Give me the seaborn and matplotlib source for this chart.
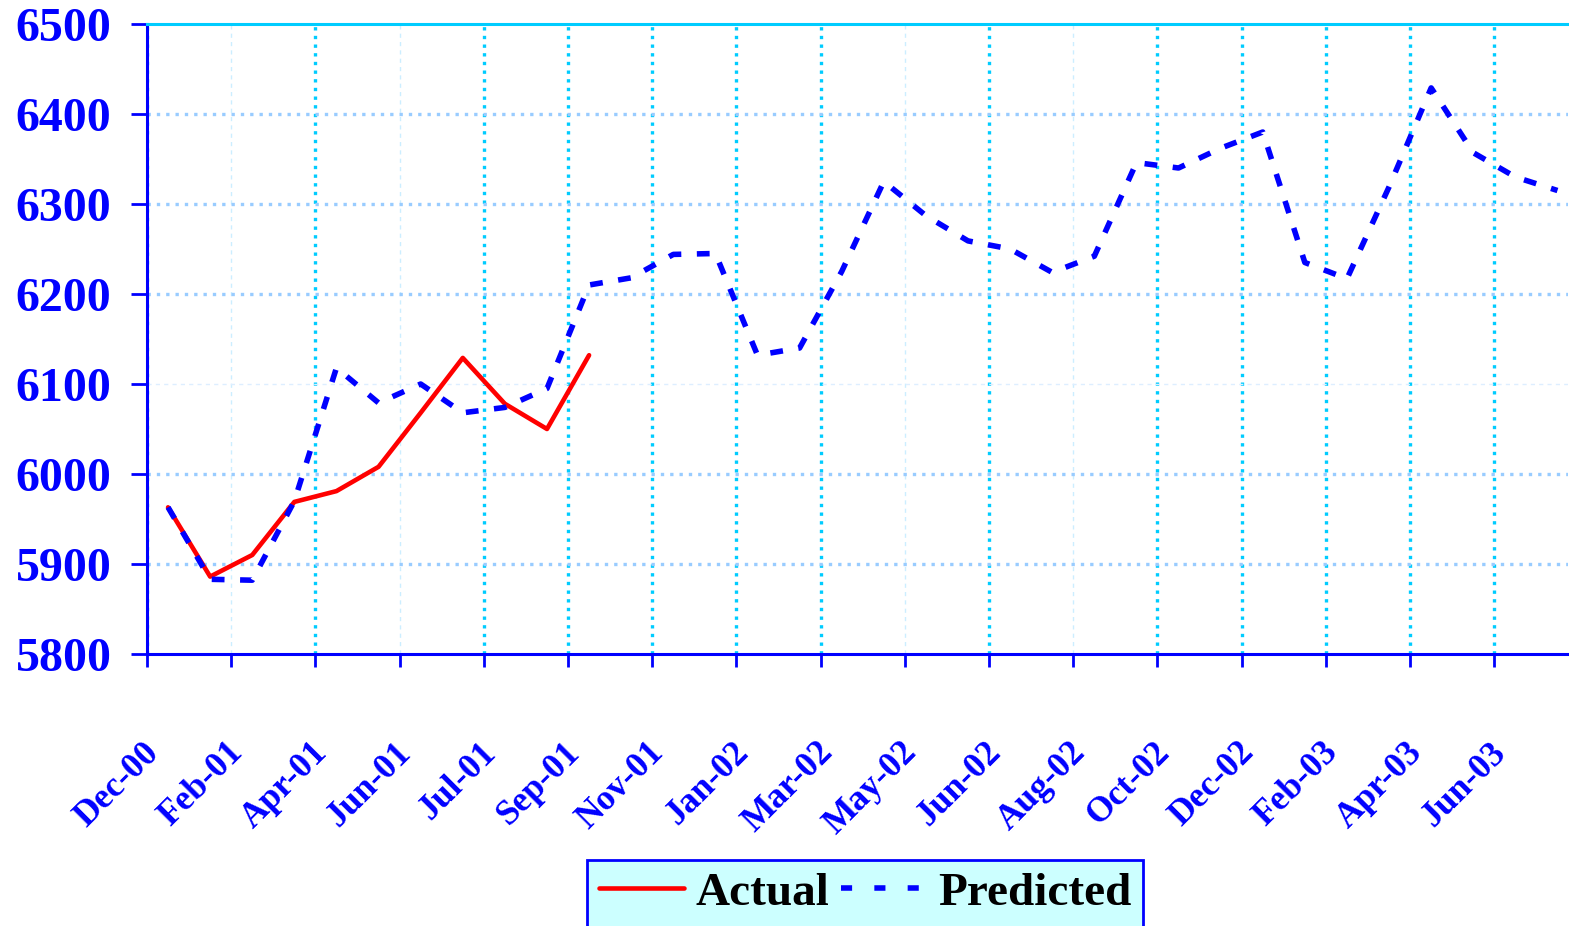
import numpy as np
import pandas as pd
import matplotlib
matplotlib.use("Agg")
import matplotlib.pyplot as plt
import matplotlib.transforms as mtransforms
import seaborn as sns

# ---- data ----
tick_labels = ["Dec-00", "Feb-01", "Apr-01", "Jun-01", "Jul-01", "Sep-01", "Nov-01",
               "Jan-02", "Mar-02", "May-02", "Jun-02", "Aug-02", "Oct-02", "Dec-02",
               "Feb-03", "Apr-03", "Jun-03"]
actual = [5963, 5886, 5910, 5969, 5981, 6008, 6068, 6129, 6078, 6050, 6132]
predicted = [5963, 5883, 5882, 5970, 6118, 6079, 6100, 6068, 6074, 6095,
             6210, 6218, 6244, 6245, 6132, 6140, 6225, 6325, 6287, 6259,
             6250, 6224, 6242, 6346, 6340, 6362, 6380, 6235, 6217, 6319,
             6429, 6357, 6330, 6315]
y_ticks = [5800, 5900, 6000, 6100, 6200, 6300, 6400, 6500]
faint_vgrid = ["Feb-01", "Jun-01", "May-02", "Aug-02"]
faint_hgrid = [6100]

df_a = pd.DataFrame({"t": np.arange(len(actual)), "v": actual})
df_p = pd.DataFrame({"t": np.arange(len(predicted)), "v": predicted})

sns.set_style("white")
plt.rcParams["font.family"] = ["Liberation Serif", "DejaVu Serif"]
plt.rcParams["font.weight"] = "bold"

W, H = 1569, 926
fig = plt.figure(figsize=(W / 100, H / 100), dpi=100)
ax = fig.add_axes([147 / W, 1 - 654 / H, (1568 - 147) / W, (654 - 24) / H])

BLUE = "#0000FF"
sns.lineplot(data=df_a, x="t", y="v", ax=ax, color="#FF0000", lw=3.3,
             label="Actual", zorder=3)
sns.lineplot(data=df_p, x="t", y="v", ax=ax, color=BLUE, lw=4,
             linestyle=(0, (2.3, 2.8)), label="Predicted", zorder=4)

tick_pos = np.arange(len(tick_labels)) * 2 - 0.5
ax.set_xlim(-0.5, 33.25)
ax.set_ylim(y_ticks[0], y_ticks[-1])

# grid lines
for p, lab in zip(tick_pos, tick_labels):
    if lab in faint_vgrid:
        ax.axvline(p, color="#CCEEFF", lw=1.0, ls=(0, (3, 3)), zorder=1)
    else:
        ax.axvline(p, color="#00CCFF", lw=2.4, ls=(0, (1, 1.6)), zorder=1)
for yv in y_ticks[1:-1]:
    if yv in faint_hgrid:
        ax.axhline(yv, color="#DDEEFF", lw=1.0, ls=(0, (3, 3)), zorder=1)
    else:
        ax.axhline(yv, color="#99CCFF", lw=2.4, ls=(0, (1, 1.8)), zorder=1)

ax.set_xticks(tick_pos)
ax.set_xticklabels(tick_labels, rotation=45, ha="right", va="center",
                   rotation_mode="anchor", fontsize=25.5, fontweight="bold", color=BLUE)
ax.set_yticks(y_ticks)
ax.set_yticklabels([str(v) for v in y_ticks], fontsize=34.5, fontweight="bold", color=BLUE)
ax.tick_params(axis="x", direction="out", length=9.5, width=2, color=BLUE, pad=58, bottom=True)
ax.tick_params(axis="y", direction="out", length=11.5, width=2, color=BLUE, pad=14, left=True)
ax.set_xlabel("")
ax.set_ylabel("")
shift = mtransforms.ScaledTranslation(0.07, 0, fig.dpi_scale_trans)
for lbl in ax.get_xticklabels():
    lbl.set_transform(lbl.get_transform() + shift)

for s in ["left", "bottom"]:
    ax.spines[s].set_color(BLUE)
    ax.spines[s].set_linewidth(2.2)
ax.spines["top"].set_color("#00CCFF")
ax.spines["top"].set_linewidth(2.2)
ax.spines["right"].set_visible(False)

leg = ax.legend(loc="upper center", bbox_to_anchor=(865 / W, 1 - 860 / H),
                bbox_transform=fig.transFigure, ncol=2, frameon=True, fancybox=False,
                framealpha=1, facecolor="#CCFFFF", edgecolor=BLUE,
                prop={"family": "Liberation Serif", "weight": "bold", "size": 34},
                labelcolor="#000000",
                handlelength=1.8, handletextpad=0.25, columnspacing=0.25,
                borderpad=0.25, borderaxespad=0)
leg.get_frame().set_linewidth(2)
leg.get_lines()[1].set_linestyle((0, (2, 4)))

fig.savefig("out.png", dpi=100)
